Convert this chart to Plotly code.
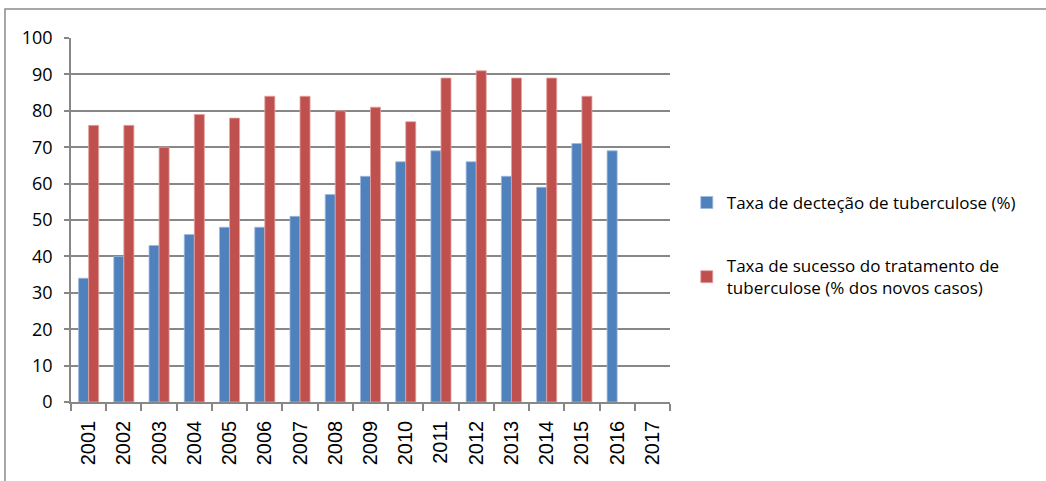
import plotly.graph_objects as go

years = [str(y) for y in range(2001, 2018)]
deteccao = [34, 40, 43, 46, 48, 48, 51, 57, 62, 66, 69, 66, 62, 59, 71, 69, None]
sucesso = [76, 76, 70, 79, 78, 84, 84, 80, 81, 77, 89, 91, 89, 89, 84, None, None]
name1 = "Taxa de decteção de tuberculose (%)"
name2 = "Taxa de sucesso do tratamento de<br>tuberculose (% dos novos casos)"

fig = go.Figure()
fig.add_trace(go.Bar(x=years, y=deteccao, name=name1, legendgroup="a",
                     marker=dict(color="#4F81BD", line=dict(color="#9DB9DD", width=0.8))))
fig.add_trace(go.Bar(x=years, y=sucesso, name=name2, legendgroup="b",
                     marker=dict(color="#C0504D", line=dict(color="#E3A3A1", width=0.8))))

grid = "#878787"
fig.update_layout(
    width=1046, height=481,
    margin=dict(l=71, r=376, t=38, b=79),
    paper_bgcolor="white", plot_bgcolor="white",
    barmode="group", bargap=0.43, bargroupgap=0,
    font=dict(family="Open Sans", size=17, color="black"),
    legend=dict(x=1.028, y=0.43, xanchor="left", yanchor="middle",
                traceorder="grouped", tracegroupgap=38,
                font=dict(family="Open Sans", size=17, color="black"),
                itemwidth=30),
    showlegend=True,
)
fig.update_xaxes(type="category", showline=True, linecolor=grid, linewidth=1.5,
                 ticks="outside", tickson="boundaries", ticklen=7, tickcolor=grid,
                 tickwidth=1.5, tickangle=-90, ticklabelstandoff=9,
                 tickfont=dict(family="Liberation Sans", size=20, color="black"),
                 showgrid=False)
fig.update_yaxes(range=[0, 100], dtick=10, showline=True, linecolor=grid, linewidth=1.5,
                 ticks="outside", ticklen=5, tickcolor=grid, tickwidth=1.5,
                 ticklabelstandoff=8,
                 showgrid=True, gridcolor=grid, gridwidth=1.5, zeroline=False,
                 tickfont=dict(family="Open Sans", size=18, color="black"))
fig.add_shape(type="rect", xref="paper", yref="paper",
              x0=-0.1102, x1=1.64, y0=-0.25, y1=1.0797,
              line=dict(color="#8A8A8A", width=1.5), fillcolor="rgba(0,0,0,0)", layer="below")
fig.write_html("out.html", config={"displayModeBar": False},
               post_script="document.body.style.margin='0';")
